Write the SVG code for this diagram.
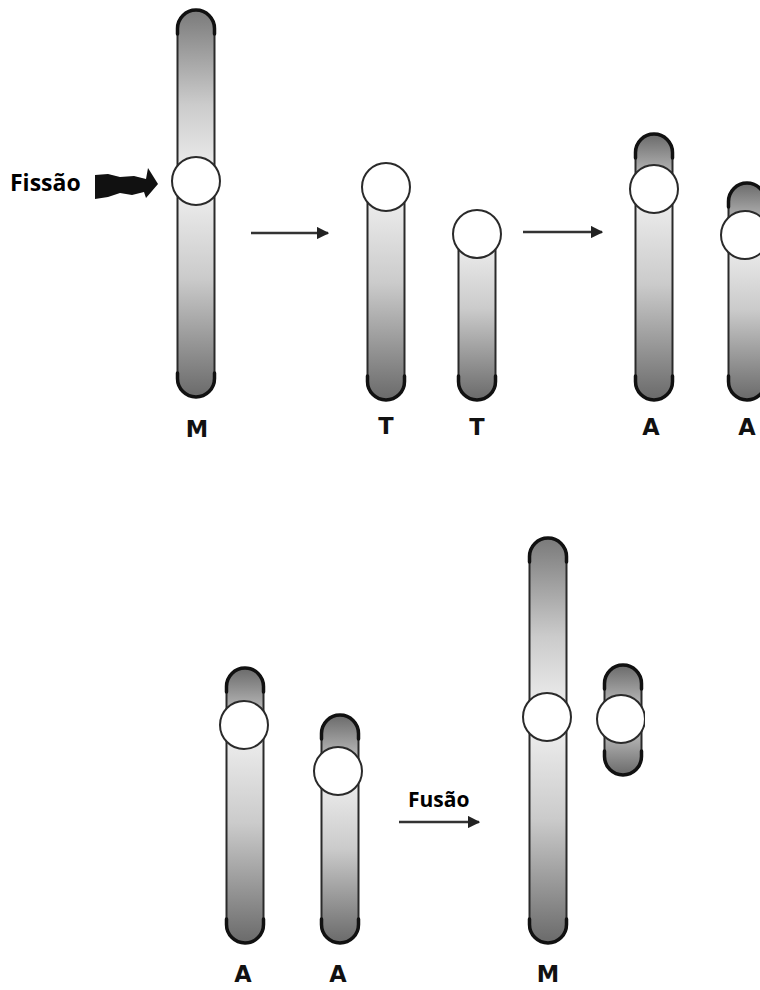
<svg xmlns="http://www.w3.org/2000/svg" width="760" height="990" viewBox="0 0 760 990">
  <defs>
    <!-- arm shading: light at the centromere, dark toward the telomere -->
    <linearGradient id="armDown" x1="0" y1="0" x2="0" y2="1">
      <stop offset="0" stop-color="#f2f2f2"/>
      <stop offset="0.45" stop-color="#cbcbcb"/>
      <stop offset="1" stop-color="#6a6a6a"/>
    </linearGradient>
    <linearGradient id="armUp" x1="0" y1="1" x2="0" y2="0">
      <stop offset="0" stop-color="#f2f2f2"/>
      <stop offset="0.45" stop-color="#cbcbcb"/>
      <stop offset="1" stop-color="#7a7a7a"/>
    </linearGradient>
    <linearGradient id="shortUp" x1="0" y1="1" x2="0" y2="0">
      <stop offset="0" stop-color="#d4d4d4"/>
      <stop offset="1" stop-color="#6a6a6a"/>
    </linearGradient>
    <linearGradient id="shortDown" x1="0" y1="0" x2="0" y2="1">
      <stop offset="0" stop-color="#d4d4d4"/>
      <stop offset="1" stop-color="#6a6a6a"/>
    </linearGradient>
    <marker id="head" viewBox="0 0 10 10" refX="9" refY="5" markerWidth="5" markerHeight="5" orient="auto" markerUnits="strokeWidth">
      <path d="M0,0 L10,5 L0,10 Z" fill="#222"/>
    </marker>
    <clipPath id="edgeClip">
      <rect x="0" y="0" width="645" height="990"/>
    </clipPath>
  </defs>
  <style>
    .arm { stroke: #2a2a2a; stroke-width: 2; }
    .cap { fill: none; stroke: #111; stroke-width: 3.5; stroke-linecap: round; }
    .cen { fill: #fff; stroke: #2a2a2a; stroke-width: 2; }
    .lbl { font-family: "DejaVu Sans", "Liberation Sans", sans-serif; font-weight: bold; font-size: 22.5px; fill: #111; text-anchor: middle; }
    .word { font-family: "Open Sans", "Liberation Sans", sans-serif; font-weight: bold; fill: #000; }
    .conn { stroke: #333; stroke-width: 2.5; fill: none; }
  </style>

  <!-- ===== Fission row ===== -->
  <g id="fission-label">
    <text class="word" x="10" y="191" font-size="23">Fissão</text>
    <path d="M95,175 L108,174 L120,177 L134,176 L146,179 L148,168 L158,184 L146,198 L144,192 L132,195 L120,193 L108,197 L95,199 Z" fill="#111"/>
  </g>

  <g id="metacentric-top">
    <path class="arm" fill="url(#armUp)" d="M177.5,181 L177.5,28.5 A18.5,18.5 0 0 1 214.5,28.5 L214.5,181 Z"/>
    <path class="cap" d="M177.5,34 L177.5,28.5 A18.5,18.5 0 0 1 214.5,28.5 L214.5,34"/>
    <path class="arm" fill="url(#armDown)" d="M177.5,181 L177.5,378.5 A18.5,18.5 0 0 0 214.5,378.5 L214.5,181 Z"/>
    <path class="cap" d="M177.5,373 L177.5,378.5 A18.5,18.5 0 0 0 214.5,378.5 L214.5,373"/>
    <circle class="cen" cx="196" cy="181" r="24"/>
    <text class="lbl" x="197" y="437">M</text>
  </g>

  <g id="telocentric-1">
    <path class="arm" fill="url(#armDown)" d="M367.5,187 L367.5,381.5 A18.5,18.5 0 0 0 404.5,381.5 L404.5,187 Z"/>
    <path class="cap" d="M367.5,376 L367.5,381.5 A18.5,18.5 0 0 0 404.5,381.5 L404.5,376"/>
    <circle class="cen" cx="386" cy="187" r="24"/>
    <text class="lbl" x="386" y="434">T</text>
  </g>

  <g id="telocentric-2">
    <path class="arm" fill="url(#armDown)" d="M458.5,234 L458.5,381.5 A18.5,18.5 0 0 0 495.5,381.5 L495.5,234 Z"/>
    <path class="cap" d="M458.5,376 L458.5,381.5 A18.5,18.5 0 0 0 495.5,381.5 L495.5,376"/>
    <circle class="cen" cx="477" cy="234" r="24"/>
    <text class="lbl" x="477" y="435">T</text>
  </g>

  <g id="acrocentric-1">
    <path class="arm" fill="url(#shortUp)" d="M635.5,189 L635.5,152.5 A18.5,18.5 0 0 1 672.5,152.5 L672.5,189 Z"/>
    <path class="cap" d="M635.5,158 L635.5,152.5 A18.5,18.5 0 0 1 672.5,152.5 L672.5,158"/>
    <path class="arm" fill="url(#armDown)" d="M635.5,189 L635.5,381.5 A18.5,18.5 0 0 0 672.5,381.5 L672.5,189 Z"/>
    <path class="cap" d="M635.5,376 L635.5,381.5 A18.5,18.5 0 0 0 672.5,381.5 L672.5,376"/>
    <circle class="cen" cx="654" cy="189" r="24"/>
    <text class="lbl" x="651" y="435">A</text>
  </g>

  <g id="acrocentric-2">
    <path class="arm" fill="url(#shortUp)" d="M728.5,235 L728.5,201.5 A18.5,18.5 0 0 1 765.5,201.5 L765.5,235 Z"/>
    <path class="cap" d="M728.5,207 L728.5,201.5 A18.5,18.5 0 0 1 765.5,201.5 L765.5,207"/>
    <path class="arm" fill="url(#armDown)" d="M728.5,235 L728.5,381.5 A18.5,18.5 0 0 0 765.5,381.5 L765.5,235 Z"/>
    <path class="cap" d="M728.5,376 L728.5,381.5 A18.5,18.5 0 0 0 765.5,381.5 L765.5,376"/>
    <circle class="cen" cx="745" cy="235" r="24"/>
    <text class="lbl" x="747" y="435">A</text>
  </g>

  <!-- ===== Fusion row ===== -->
  <g id="acrocentric-3">
    <path class="arm" fill="url(#shortUp)" d="M226.5,725 L226.5,686.5 A18.5,18.5 0 0 1 263.5,686.5 L263.5,725 Z"/>
    <path class="cap" d="M226.5,692 L226.5,686.5 A18.5,18.5 0 0 1 263.5,686.5 L263.5,692"/>
    <path class="arm" fill="url(#armDown)" d="M226.5,725 L226.5,924.5 A18.5,18.5 0 0 0 263.5,924.5 L263.5,725 Z"/>
    <path class="cap" d="M226.5,919 L226.5,924.5 A18.5,18.5 0 0 0 263.5,924.5 L263.5,919"/>
    <circle class="cen" cx="244" cy="725" r="24"/>
    <text class="lbl" x="243" y="982">A</text>
  </g>

  <g id="acrocentric-4">
    <path class="arm" fill="url(#shortUp)" d="M321.5,771 L321.5,733.5 A18.5,18.5 0 0 1 358.5,733.5 L358.5,771 Z"/>
    <path class="cap" d="M321.5,739 L321.5,733.5 A18.5,18.5 0 0 1 358.5,733.5 L358.5,739"/>
    <path class="arm" fill="url(#armDown)" d="M321.5,771 L321.5,924.5 A18.5,18.5 0 0 0 358.5,924.5 L358.5,771 Z"/>
    <path class="cap" d="M321.5,919 L321.5,924.5 A18.5,18.5 0 0 0 358.5,924.5 L358.5,919"/>
    <circle class="cen" cx="338" cy="771" r="24"/>
    <text class="lbl" x="338" y="982">A</text>
  </g>

  <g id="fusion-label">
    <text class="word" x="408" y="807" font-size="21">Fusão</text>
  </g>

  <g id="metacentric-bottom">
    <path class="arm" fill="url(#armUp)" d="M529.5,717 L529.5,556.5 A18.5,18.5 0 0 1 566.5,556.5 L566.5,717 Z"/>
    <path class="cap" d="M529.5,562 L529.5,556.5 A18.5,18.5 0 0 1 566.5,556.5 L566.5,562"/>
    <path class="arm" fill="url(#armDown)" d="M529.5,717 L529.5,924.5 A18.5,18.5 0 0 0 566.5,924.5 L566.5,717 Z"/>
    <path class="cap" d="M529.5,919 L529.5,924.5 A18.5,18.5 0 0 0 566.5,924.5 L566.5,919"/>
    <circle class="cen" cx="547" cy="717" r="24"/>
    <text class="lbl" x="548" y="982">M</text>
  </g>

  <g id="small-metacentric" clip-path="url(#edgeClip)">
    <path class="arm" fill="url(#shortUp)" d="M604.5,719 L604.5,683.5 A18.5,18.5 0 0 1 641.5,683.5 L641.5,719 Z"/>
    <path class="cap" d="M604.5,689 L604.5,683.5 A18.5,18.5 0 0 1 641.5,683.5 L641.5,689"/>
    <path class="arm" fill="url(#shortDown)" d="M604.5,719 L604.5,756.5 A18.5,18.5 0 0 0 641.5,756.5 L641.5,719 Z"/>
    <path class="cap" d="M604.5,751 L604.5,756.5 A18.5,18.5 0 0 0 641.5,756.5 L641.5,751"/>
    <circle class="cen" cx="621" cy="719" r="24"/>
  </g>

  <!-- ===== Connectors ===== -->
  <g id="connectors">
    <line class="conn" x1="251" y1="233" x2="328" y2="233" marker-end="url(#head)"/>
    <line class="conn" x1="523" y1="232" x2="602" y2="232" marker-end="url(#head)"/>
    <line class="conn" x1="399" y1="822" x2="479" y2="822" marker-end="url(#head)"/>
  </g>
</svg>
